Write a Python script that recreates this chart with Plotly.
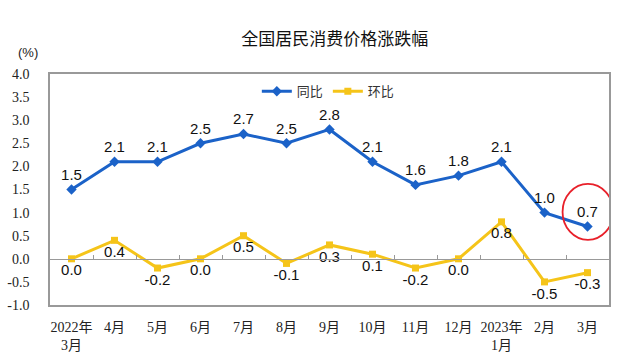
import plotly.graph_objects as go

categories = ["2022年<br>3月", "4月", "5月", "6月", "7月", "8月", "9月", "10月", "11月", "12月", "2023年<br>1月", "2月", "3月"]
yoy = [1.5, 2.1, 2.1, 2.5, 2.7, 2.5, 2.8, 2.1, 1.6, 1.8, 2.1, 1.0, 0.7]
mom = [0.0, 0.4, -0.2, 0.0, 0.5, -0.1, 0.3, 0.1, -0.2, 0.0, 0.8, -0.5, -0.3]
y_ticks = [4.0, 3.5, 3.0, 2.5, 2.0, 1.5, 1.0, 0.5, 0.0, -0.5, -1.0]

BLUE = "#1b62c8"
YELLOW = "#f5c419"
num_font = dict(family="Liberation Sans, Arial, sans-serif", size=15, color="#111")

fig = go.Figure()
fig.add_trace(go.Scatter(
    x=categories, y=yoy, name="同比", mode="lines+markers+text",
    line=dict(color=BLUE, width=3), marker=dict(symbol="diamond", size=8, color=BLUE),
    text=[f"{v:.1f}" for v in yoy], textposition="top center", textfont=num_font,
    cliponaxis=False,
))
fig.add_trace(go.Scatter(
    x=categories, y=mom, name="环比", mode="lines+markers+text", xaxis="x2",
    line=dict(color=YELLOW, width=3), marker=dict(symbol="square", size=7, color=YELLOW),
    text=[f"{v:.1f}" for v in mom], textposition="bottom center", textfont=num_font,
    cliponaxis=False,
))

tick_font = dict(family="Liberation Serif, Noto Sans CJK SC, serif", size=14, color="#222")

fig.update_layout(
    width=640, height=353,
    margin=dict(l=50, r=31, t=74, b=48, autoexpand=False),
    paper_bgcolor="white", plot_bgcolor="white",
    title=dict(text="全国居民消费价格涨跌幅", x=0.523, xanchor="center", y=0.89, yanchor="middle",
               font=dict(family="Noto Sans CJK SC", size=17, color="#111")),
    showlegend=True,
    legend=dict(orientation="h", x=0.37, y=0.99, xanchor="left", yanchor="top",
                font=dict(family="Noto Sans CJK SC", size=13, color="#333"),
                bgcolor="rgba(0,0,0,0)", itemwidth=30, tracegroupgap=0),
    xaxis=dict(type="category", categoryorder="array", categoryarray=categories,
               range=[-0.5, len(categories) - 0.5], automargin=False,
               showline=True, linecolor="#999", linewidth=1.5, mirror=True,
               ticks="", showgrid=False, tickfont=tick_font, ticklabelstandoff=8),
    xaxis2=dict(type="category", categoryorder="array", categoryarray=categories,
                matches="x", overlaying="x", anchor="free", position=0.2, automargin=False,
                showline=True, linecolor="#999", linewidth=1.2,
                ticks="inside", ticklen=4, tickcolor="#999", tickson="boundaries",
                showticklabels=False, showgrid=False),
    yaxis=dict(range=[-1, 4], tickvals=y_ticks, ticktext=[f"{v:.1f}" for v in y_ticks],
               showline=True, linecolor="#999", linewidth=1.5, mirror=True, automargin=False,
               showgrid=False, zeroline=False, ticks="", tickfont=tick_font, ticklabelstandoff=16),
)

fig.add_annotation(text="(%)", xref="paper", yref="paper", x=-0.039, y=1.095,
                   showarrow=False, xanchor="center", yanchor="middle",
                   font=dict(family="Liberation Sans, Arial", size=13, color="#222"))

fig.add_shape(type="circle", xref="x", yref="y", x0=11.42, x1=12.6, y0=0.41, y1=1.62,
              line=dict(color="#e8202a", width=1.8))

fig.write_html("out.html")
